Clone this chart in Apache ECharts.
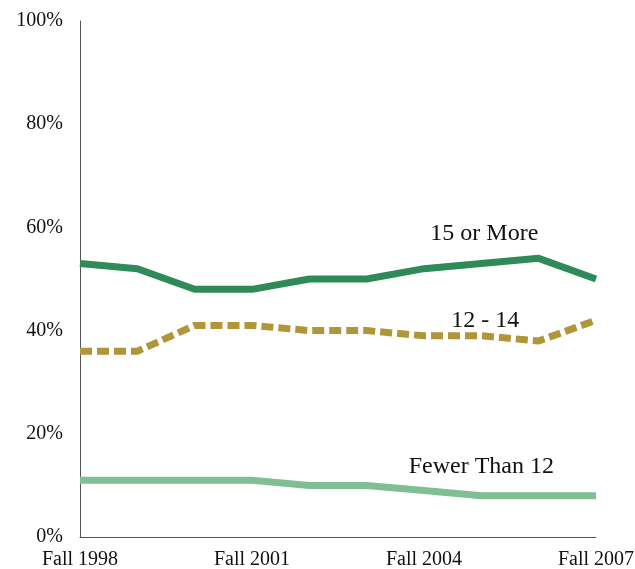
<!DOCTYPE html>
<html>
<head>
<meta charset="utf-8">
<script src="https://cdn.jsdelivr.net/npm/echarts@6/dist/echarts.min.js"></script>
<style>
  html, body { margin: 0; padding: 0; background: #fff; }
  #chart { width: 635px; height: 569px; }
</style>
</head>
<body>
<div id="chart"></div>
<script>
// Share of students by credit-hour load, fall terms
const terms = ['Fall 1998', 'Fall 1999', 'Fall 2000', 'Fall 2001', 'Fall 2002',
               'Fall 2003', 'Fall 2004', 'Fall 2005', 'Fall 2006', 'Fall 2007'];
const fifteenOrMore = [53, 52, 48, 48, 50, 50, 52, 53, 54, 50];
const twelveToFourteen = [36, 36, 41, 41, 40, 40, 39, 39, 38, 42];
const fewerThanTwelve = [11, 11, 11, 11, 10, 10, 9, 8, 8, 8];
const yTicks = [0, 20, 40, 60, 80, 100];

const fontFamily = '"Liberation Serif", "DejaVu Serif", serif';

// Put the series name beside one chosen point of the line
function labelled(values, index, name, offset) {
  return values.map((v, i) => i === index ? {
    value: v,
    label: {
      show: true, formatter: name, position: 'inside', offset: offset,
      fontFamily: fontFamily, fontSize: 24, color: '#111'
    }
  } : v);
}

function lineSeries(name, values, offset, lineStyle) {
  return {
    name: name, type: 'line',
    symbol: 'circle', symbolSize: 0, showSymbol: true,
    data: labelled(values, 7, name, offset),
    lineStyle: lineStyle,
    itemStyle: { color: lineStyle.color }
  };
}

const chart = echarts.init(document.getElementById('chart'), null, { renderer: 'canvas' });
chart.setOption({
  animation: false,
  grid: { left: 80, right: 39, top: 21, bottom: 32, outerBoundsMode: 'none', containLabel: false },
  xAxis: {
    type: 'category',
    data: terms,
    boundaryGap: false,
    axisLine: { lineStyle: { color: '#555', width: 1 } },
    axisTick: { show: false },
    axisLabel: {
      interval: 2, margin: 13,
      fontFamily: fontFamily, fontSize: 20, color: '#111'
    }
  },
  yAxis: {
    type: 'value',
    min: yTicks[0], max: yTicks[yTicks.length - 1], interval: 20,
    axisLine: { show: true, lineStyle: { color: '#555', width: 1 } },
    axisTick: { show: false },
    splitLine: { show: false },
    axisLabel: {
      margin: 17,
      padding: [4, 0, 0, 0],
      formatter: v => v + '%',
      fontFamily: fontFamily, fontSize: 20, color: '#111'
    }
  },
  series: [
    lineSeries('15 or More', fifteenOrMore, [3, -30],
      { color: '#2e8b57', width: 7 }),
    lineSeries('12 - 14', twelveToFourteen, [4, -15],
      { color: '#b0953a', width: 7, type: [12, 5] }),
    lineSeries('Fewer Than 12', fewerThanTwelve, [0, -29],
      { color: '#7fbf93', width: 7 })
  ]
});
</script>
</body>
</html>
